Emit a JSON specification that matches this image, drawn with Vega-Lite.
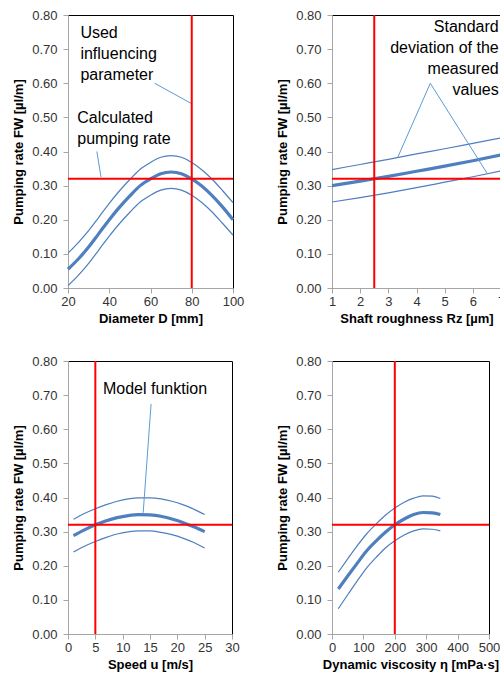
{
  "$schema": "https://vega.github.io/schema/vega-lite/v6.json",
  "padding": {"left": 12, "top": 8, "right": 0, "bottom": 0},
  "config": {
    "font": "Liberation Sans",
    "view": {"stroke": "#000000", "strokeWidth": 1},
    "axis": {"grid": false, "labelFontSize": 13, "labelColor": "#333333", "titleFontSize": 13, "titleFontWeight": "bold", "titleColor": "#000000", "domainColor": "#a6a6a6", "tickColor": "#a6a6a6", "tickSize": 5, "labelFont": "Liberation Sans", "titleFont": "Liberation Sans", "labelOverlap": false, "labelFlush": false, "labelBound": false},
    "axisY": {"labelPadding": 6, "titlePadding": 6}
  },
  "datasets": {
    "p1": [
      {"x":20,"y":0.102,"s":"upper"},{"x":25,"y":0.133,"s":"upper"},{"x":30,"y":0.168,"s":"upper"},{"x":35,"y":0.208,"s":"upper"},{"x":40,"y":0.248,"s":"upper"},{"x":45,"y":0.285,"s":"upper"},{"x":50,"y":0.318,"s":"upper"},{"x":55,"y":0.348,"s":"upper"},{"x":60,"y":0.368,"s":"upper"},{"x":65,"y":0.383,"s":"upper"},{"x":70,"y":0.388,"s":"upper"},{"x":75,"y":0.383,"s":"upper"},{"x":80,"y":0.368,"s":"upper"},{"x":85,"y":0.346,"s":"upper"},{"x":90,"y":0.318,"s":"upper"},{"x":95,"y":0.285,"s":"upper"},{"x":100,"y":0.25,"s":"upper"},
      {"x":20,"y":0.055,"s":"center"},{"x":25,"y":0.085,"s":"center"},{"x":30,"y":0.12,"s":"center"},{"x":35,"y":0.16,"s":"center"},{"x":40,"y":0.2,"s":"center"},{"x":45,"y":0.237,"s":"center"},{"x":50,"y":0.27,"s":"center"},{"x":55,"y":0.3,"s":"center"},{"x":60,"y":0.32,"s":"center"},{"x":65,"y":0.335,"s":"center"},{"x":70,"y":0.34,"s":"center"},{"x":75,"y":0.335,"s":"center"},{"x":80,"y":0.32,"s":"center"},{"x":85,"y":0.298,"s":"center"},{"x":90,"y":0.27,"s":"center"},{"x":95,"y":0.237,"s":"center"},{"x":100,"y":0.2,"s":"center"},
      {"x":20,"y":0.007,"s":"lower"},{"x":25,"y":0.037,"s":"lower"},{"x":30,"y":0.072,"s":"lower"},{"x":35,"y":0.112,"s":"lower"},{"x":40,"y":0.152,"s":"lower"},{"x":45,"y":0.189,"s":"lower"},{"x":50,"y":0.222,"s":"lower"},{"x":55,"y":0.252,"s":"lower"},{"x":60,"y":0.272,"s":"lower"},{"x":65,"y":0.287,"s":"lower"},{"x":70,"y":0.292,"s":"lower"},{"x":75,"y":0.287,"s":"lower"},{"x":80,"y":0.272,"s":"lower"},{"x":85,"y":0.25,"s":"lower"},{"x":90,"y":0.222,"s":"lower"},{"x":95,"y":0.189,"s":"lower"},{"x":100,"y":0.155,"s":"lower"}
    ],
    "p1lead": [
      {"x":62,"y":0.6,"g":"a"},{"x":80,"y":0.54,"g":"a"},
      {"x":34,"y":0.4,"g":"b"},{"x":36,"y":0.325,"g":"b"}
    ],
    "p1text": [
      {"x":26,"y":0.732,"t":"Used\ninfluencing\nparameter"},
      {"x":24.5,"y":0.483,"t":"Calculated\npumping rate"}
    ],
    "p1vx": [{"x":80}],
    "p2vx": [{"x":2.5}],
    "p3vx": [{"x":5}],
    "p4vx": [{"x":200}],
    "hy": [{"y":0.32}],
    "p2": [
      {"x":1,"y":0.347,"s":"upper"},{"x":2,"y":0.362,"s":"upper"},{"x":3,"y":0.377,"s":"upper"},{"x":4,"y":0.393,"s":"upper"},{"x":5,"y":0.408,"s":"upper"},{"x":6,"y":0.424,"s":"upper"},{"x":7,"y":0.44,"s":"upper"},
      {"x":1,"y":0.3,"s":"center"},{"x":2,"y":0.313,"s":"center"},{"x":3,"y":0.327,"s":"center"},{"x":4,"y":0.342,"s":"center"},{"x":5,"y":0.357,"s":"center"},{"x":6,"y":0.373,"s":"center"},{"x":7,"y":0.39,"s":"center"},
      {"x":1,"y":0.252,"s":"lower"},{"x":2,"y":0.265,"s":"lower"},{"x":3,"y":0.279,"s":"lower"},{"x":4,"y":0.294,"s":"lower"},{"x":5,"y":0.31,"s":"lower"},{"x":6,"y":0.326,"s":"lower"},{"x":7,"y":0.343,"s":"lower"}
    ],
    "p2lead": [
      {"x":3.34,"y":0.384,"o":1},{"x":4.49,"y":0.6,"o":2},{"x":6.5,"y":0.337,"o":3}
    ],
    "p2text": [
      {"x":6.92,"y":0.749,"t":"Standard\ndeviation of the\nmeasured\nvalues"}
    ],
    "p3": [
      {"x":1,"y":0.336,"s":"upper"},{"x":3,"y":0.353,"s":"upper"},{"x":5,"y":0.367,"s":"upper"},{"x":7,"y":0.379,"s":"upper"},{"x":9,"y":0.389,"s":"upper"},{"x":11,"y":0.396,"s":"upper"},{"x":13,"y":0.399,"s":"upper"},{"x":15,"y":0.399,"s":"upper"},{"x":17,"y":0.396,"s":"upper"},{"x":19,"y":0.389,"s":"upper"},{"x":21,"y":0.379,"s":"upper"},{"x":23,"y":0.366,"s":"upper"},{"x":25,"y":0.35,"s":"upper"},
      {"x":1,"y":0.288,"s":"center"},{"x":3,"y":0.305,"s":"center"},{"x":5,"y":0.32,"s":"center"},{"x":7,"y":0.332,"s":"center"},{"x":9,"y":0.341,"s":"center"},{"x":11,"y":0.347,"s":"center"},{"x":13,"y":0.35,"s":"center"},{"x":15,"y":0.349,"s":"center"},{"x":17,"y":0.345,"s":"center"},{"x":19,"y":0.337,"s":"center"},{"x":21,"y":0.327,"s":"center"},{"x":23,"y":0.314,"s":"center"},{"x":25,"y":0.3,"s":"center"},
      {"x":1,"y":0.24,"s":"lower"},{"x":3,"y":0.257,"s":"lower"},{"x":5,"y":0.271,"s":"lower"},{"x":7,"y":0.283,"s":"lower"},{"x":9,"y":0.293,"s":"lower"},{"x":11,"y":0.299,"s":"lower"},{"x":13,"y":0.302,"s":"lower"},{"x":15,"y":0.302,"s":"lower"},{"x":17,"y":0.298,"s":"lower"},{"x":19,"y":0.291,"s":"lower"},{"x":21,"y":0.281,"s":"lower"},{"x":23,"y":0.268,"s":"lower"},{"x":25,"y":0.252,"s":"lower"}
    ],
    "p3lead": [
      {"x":15.2,"y":0.674,"o":1},{"x":13.75,"y":0.355,"o":2}
    ],
    "p3text": [
      {"x":6.4,"y":0.703,"t":"Model funktion"}
    ],
    "p4": [
      {"x":20,"y":0.181,"s":"upper"},{"x":50,"y":0.22,"s":"upper"},{"x":80,"y":0.258,"s":"upper"},{"x":110,"y":0.293,"s":"upper"},{"x":140,"y":0.322,"s":"upper"},{"x":170,"y":0.348,"s":"upper"},{"x":200,"y":0.369,"s":"upper"},{"x":230,"y":0.386,"s":"upper"},{"x":260,"y":0.398,"s":"upper"},{"x":290,"y":0.405,"s":"upper"},{"x":320,"y":0.404,"s":"upper"},{"x":345,"y":0.397,"s":"upper"},
      {"x":20,"y":0.132,"s":"center"},{"x":50,"y":0.17,"s":"center"},{"x":80,"y":0.207,"s":"center"},{"x":110,"y":0.243,"s":"center"},{"x":140,"y":0.272,"s":"center"},{"x":170,"y":0.298,"s":"center"},{"x":200,"y":0.32,"s":"center"},{"x":230,"y":0.337,"s":"center"},{"x":260,"y":0.35,"s":"center"},{"x":290,"y":0.356,"s":"center"},{"x":320,"y":0.355,"s":"center"},{"x":345,"y":0.35,"s":"center"},
      {"x":20,"y":0.074,"s":"lower"},{"x":50,"y":0.115,"s":"lower"},{"x":80,"y":0.155,"s":"lower"},{"x":110,"y":0.193,"s":"lower"},{"x":140,"y":0.224,"s":"lower"},{"x":170,"y":0.252,"s":"lower"},{"x":200,"y":0.273,"s":"lower"},{"x":230,"y":0.29,"s":"lower"},{"x":260,"y":0.302,"s":"lower"},{"x":290,"y":0.308,"s":"lower"},{"x":320,"y":0.307,"s":"lower"},{"x":345,"y":0.302,"s":"lower"}
    ]
  },
  "columns": 2,
  "align": "none",
  "spacing": {"row": 28, "column": 31},
  "concat": [
    {
      "width": 165, "height": 273,
      "layer": [
        {"data": {"name": "p1"}, "mark": {"type": "line", "color": "#4f7fbf", "interpolate": "monotone"},
         "encoding": {
           "x": {"field": "x", "type": "quantitative", "scale": {"domain": [20, 100], "nice": false}, "axis": {"values": [20, 40, 60, 80, 100], "title": "Diameter D [mm]"}},
           "y": {"field": "y", "type": "quantitative", "scale": {"domain": [0, 0.8], "nice": false}, "axis": {"values": [0,0.1,0.2,0.3,0.4,0.5,0.6,0.7,0.8], "format": ".2f", "title": "Pumping rate FW [µl/m]"}},
           "detail": {"field": "s"},
           "strokeWidth": {"field": "s", "type": "nominal", "scale": {"type": "ordinal", "domain": ["center", "upper", "lower"], "range": [3.2, 1.2, 1.2]}, "legend": null}
         }},
        {"data": {"name": "p1lead"}, "mark": {"type": "line", "color": "#5b9bd5", "strokeWidth": 1},
         "encoding": {"x": {"field": "x", "type": "quantitative", "axis": {"values": [20, 40, 60, 80, 100], "title": "Diameter D [mm]"}}, "y": {"field": "y", "type": "quantitative", "axis": {"values": [0,0.1,0.2,0.3,0.4,0.5,0.6,0.7,0.8], "format": ".2f", "title": "Pumping rate FW [µl/m]"}}, "detail": {"field": "g"}}},
        {"data": {"name": "p1text"}, "mark": {"type": "text", "align": "left", "baseline": "alphabetic", "fontSize": 16, "lineBreak": "\n", "lineHeight": 21, "color": "#000000"},
         "encoding": {"x": {"field": "x", "type": "quantitative", "axis": {"values": [20, 40, 60, 80, 100], "title": "Diameter D [mm]"}}, "y": {"field": "y", "type": "quantitative", "axis": {"values": [0,0.1,0.2,0.3,0.4,0.5,0.6,0.7,0.8], "format": ".2f", "title": "Pumping rate FW [µl/m]"}}, "text": {"field": "t"}}},
        {"data": {"name": "p1vx"}, "mark": {"type": "rule", "color": "#ff0000", "strokeWidth": 2}, "encoding": {"x": {"field": "x", "type": "quantitative", "axis": {"values": [20, 40, 60, 80, 100], "title": "Diameter D [mm]"}}}},
        {"data": {"name": "hy"}, "mark": {"type": "rule", "color": "#ff0000", "strokeWidth": 2}, "encoding": {"y": {"field": "y", "type": "quantitative", "axis": {"values": [0,0.1,0.2,0.3,0.4,0.5,0.6,0.7,0.8], "format": ".2f", "title": "Pumping rate FW [µl/m]"}}}}
      ]
    },
    {
      "width": 169, "height": 273,
      "layer": [
        {"data": {"name": "p2"}, "mark": {"type": "line", "color": "#4f7fbf", "interpolate": "monotone"},
         "encoding": {
           "x": {"field": "x", "type": "quantitative", "scale": {"domain": [1, 7], "nice": false}, "axis": {"values": [1,2,3,4,5,6,7], "title": "Shaft roughness Rz [µm]"}},
           "y": {"field": "y", "type": "quantitative", "scale": {"domain": [0, 0.8], "nice": false}, "axis": {"values": [0,0.1,0.2,0.3,0.4,0.5,0.6,0.7,0.8], "format": ".2f", "title": "Pumping rate FW [µl/m]"}},
           "detail": {"field": "s"},
           "strokeWidth": {"field": "s", "type": "nominal", "scale": {"type": "ordinal", "domain": ["center", "upper", "lower"], "range": [3.2, 1.2, 1.2]}, "legend": null}
         }},
        {"data": {"name": "p2lead"}, "mark": {"type": "line", "color": "#5b9bd5", "strokeWidth": 1},
         "encoding": {"x": {"field": "x", "type": "quantitative", "axis": {"values": [1,2,3,4,5,6,7], "title": "Shaft roughness Rz [µm]"}}, "y": {"field": "y", "type": "quantitative", "axis": {"values": [0,0.1,0.2,0.3,0.4,0.5,0.6,0.7,0.8], "format": ".2f", "title": "Pumping rate FW [µl/m]"}}, "order": {"field": "o"}}},
        {"data": {"name": "p2text"}, "mark": {"type": "text", "align": "right", "baseline": "alphabetic", "fontSize": 16, "lineBreak": "\n", "lineHeight": 21, "color": "#000000"},
         "encoding": {"x": {"field": "x", "type": "quantitative", "axis": {"values": [1,2,3,4,5,6,7], "title": "Shaft roughness Rz [µm]"}}, "y": {"field": "y", "type": "quantitative", "axis": {"values": [0,0.1,0.2,0.3,0.4,0.5,0.6,0.7,0.8], "format": ".2f", "title": "Pumping rate FW [µl/m]"}}, "text": {"field": "t"}}},
        {"data": {"name": "p2vx"}, "mark": {"type": "rule", "color": "#ff0000", "strokeWidth": 2}, "encoding": {"x": {"field": "x", "type": "quantitative", "axis": {"values": [1,2,3,4,5,6,7], "title": "Shaft roughness Rz [µm]"}}}},
        {"data": {"name": "hy"}, "mark": {"type": "rule", "color": "#ff0000", "strokeWidth": 2}, "encoding": {"y": {"field": "y", "type": "quantitative", "axis": {"values": [0,0.1,0.2,0.3,0.4,0.5,0.6,0.7,0.8], "format": ".2f", "title": "Pumping rate FW [µl/m]"}}}}
      ]
    },
    {
      "width": 164, "height": 273,
      "layer": [
        {"data": {"name": "p3"}, "mark": {"type": "line", "color": "#4f7fbf", "interpolate": "monotone"},
         "encoding": {
           "x": {"field": "x", "type": "quantitative", "scale": {"domain": [0, 30], "nice": false}, "axis": {"values": [0,5,10,15,20,25,30], "title": "Speed u [m/s]"}},
           "y": {"field": "y", "type": "quantitative", "scale": {"domain": [0, 0.8], "nice": false}, "axis": {"values": [0,0.1,0.2,0.3,0.4,0.5,0.6,0.7,0.8], "format": ".2f", "title": "Pumping rate FW [µl/m]"}},
           "detail": {"field": "s"},
           "strokeWidth": {"field": "s", "type": "nominal", "scale": {"type": "ordinal", "domain": ["center", "upper", "lower"], "range": [3.2, 1.2, 1.2]}, "legend": null}
         }},
        {"data": {"name": "p3lead"}, "mark": {"type": "line", "color": "#5b9bd5", "strokeWidth": 1},
         "encoding": {"x": {"field": "x", "type": "quantitative", "axis": {"values": [0,5,10,15,20,25,30], "title": "Speed u [m/s]"}}, "y": {"field": "y", "type": "quantitative", "axis": {"values": [0,0.1,0.2,0.3,0.4,0.5,0.6,0.7,0.8], "format": ".2f", "title": "Pumping rate FW [µl/m]"}}, "order": {"field": "o"}}},
        {"data": {"name": "p3text"}, "mark": {"type": "text", "align": "left", "baseline": "alphabetic", "fontSize": 16, "color": "#000000"},
         "encoding": {"x": {"field": "x", "type": "quantitative", "axis": {"values": [0,5,10,15,20,25,30], "title": "Speed u [m/s]"}}, "y": {"field": "y", "type": "quantitative", "axis": {"values": [0,0.1,0.2,0.3,0.4,0.5,0.6,0.7,0.8], "format": ".2f", "title": "Pumping rate FW [µl/m]"}}, "text": {"field": "t"}}},
        {"data": {"name": "p3vx"}, "mark": {"type": "rule", "color": "#ff0000", "strokeWidth": 2}, "encoding": {"x": {"field": "x", "type": "quantitative", "axis": {"values": [0,5,10,15,20,25,30], "title": "Speed u [m/s]"}}}},
        {"data": {"name": "hy"}, "mark": {"type": "rule", "color": "#ff0000", "strokeWidth": 2}, "encoding": {"y": {"field": "y", "type": "quantitative", "axis": {"values": [0,0.1,0.2,0.3,0.4,0.5,0.6,0.7,0.8], "format": ".2f", "title": "Pumping rate FW [µl/m]"}}}}
      ]
    },
    {
      "width": 157, "height": 273,
      "layer": [
        {"data": {"name": "p4"}, "mark": {"type": "line", "color": "#4f7fbf", "interpolate": "monotone"},
         "encoding": {
           "x": {"field": "x", "type": "quantitative", "scale": {"domain": [0, 500], "nice": false}, "axis": {"values": [0,100,200,300,400,500], "title": "Dynamic viscosity η [mPa·s]"}},
           "y": {"field": "y", "type": "quantitative", "scale": {"domain": [0, 0.8], "nice": false}, "axis": {"values": [0,0.1,0.2,0.3,0.4,0.5,0.6,0.7,0.8], "format": ".2f", "title": "Pumping rate FW [µl/m]"}},
           "detail": {"field": "s"},
           "strokeWidth": {"field": "s", "type": "nominal", "scale": {"type": "ordinal", "domain": ["center", "upper", "lower"], "range": [3.2, 1.2, 1.2]}, "legend": null}
         }},
        {"data": {"name": "p4vx"}, "mark": {"type": "rule", "color": "#ff0000", "strokeWidth": 2}, "encoding": {"x": {"field": "x", "type": "quantitative", "axis": {"values": [0,100,200,300,400,500], "title": "Dynamic viscosity η [mPa·s]"}}}},
        {"data": {"name": "hy"}, "mark": {"type": "rule", "color": "#ff0000", "strokeWidth": 2}, "encoding": {"y": {"field": "y", "type": "quantitative", "axis": {"values": [0,0.1,0.2,0.3,0.4,0.5,0.6,0.7,0.8], "format": ".2f", "title": "Pumping rate FW [µl/m]"}}}}
      ]
    }
  ]
}
